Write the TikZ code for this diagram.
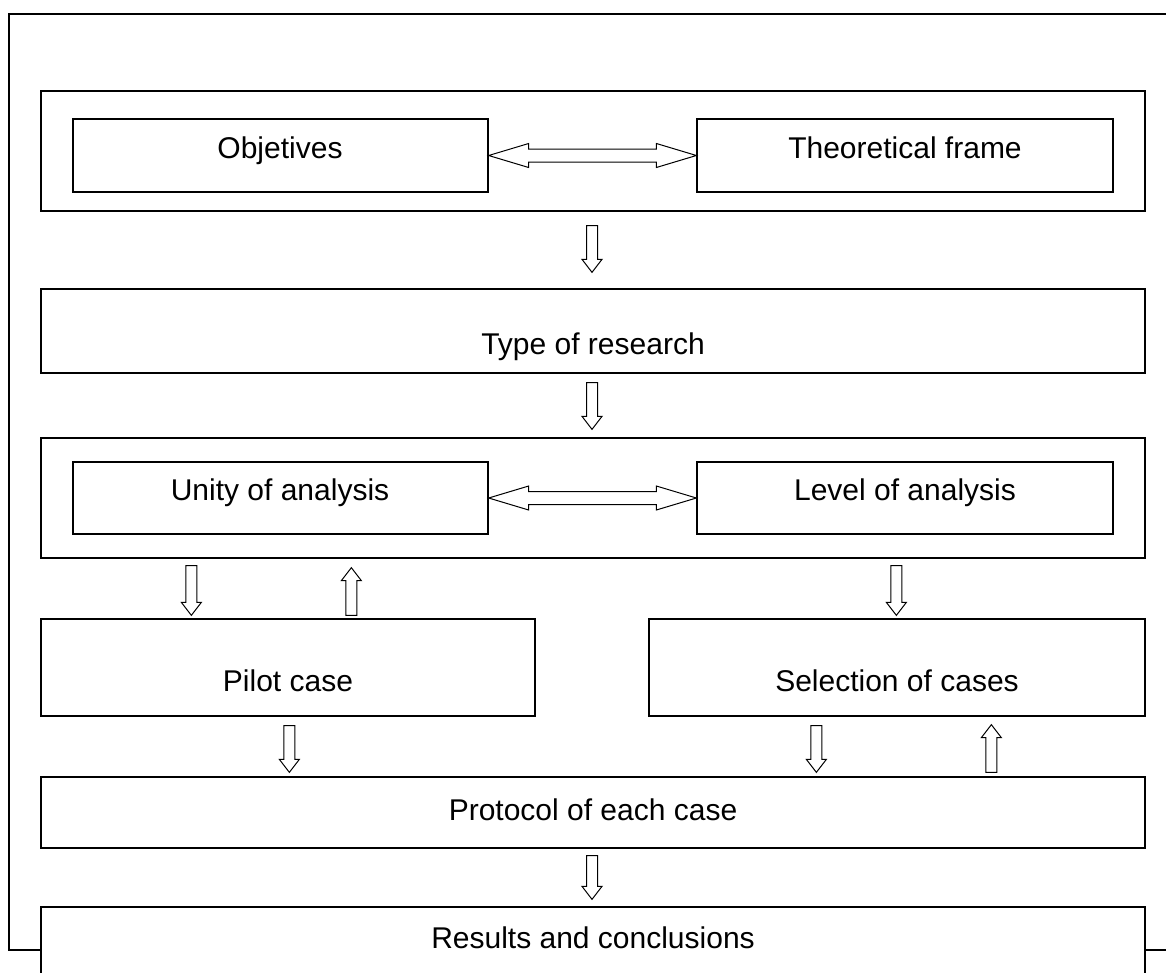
\documentclass[tikz,border=0pt]{standalone}
\usepackage{fontspec}
\setmainfont{Liberation Sans}
\usetikzlibrary{calc,fit}
\tikzset{
  box/.style={draw,line width=1.3pt,fill=white,inner sep=0pt},
  lbl/.style={anchor=base,inner sep=0pt,font=\fontsize{30}{36}\selectfont},
  barrow/.style={draw,line width=1pt,fill=white,line join=miter},
}
\newcommand\blockv[2]{%
  \path[barrow] let \p1=#1, \p2=#2, \n1={13*sign(\y2-\y1)} in
    ({\x1-5.5pt},\y1) -- ({\x1-5.5pt},{\y2-(\n1)*1pt}) -- ({\x1-10pt},{\y2-(\n1)*1pt})
    -- (\x1,\y2) -- ({\x1+10pt},{\y2-(\n1)*1pt}) -- ({\x1+5.5pt},{\y2-(\n1)*1pt})
    -- ({\x1+5.5pt},\y1) -- cycle;}
\newcommand\blockh[2]{%
  \path[barrow] let \p1=#1, \p2=#2 in
    (\x1,\y1) -- ({\x1+40pt},{\y1+12pt}) -- ({\x1+40pt},{\y1+6.5pt}) -- ({\x2-40pt},{\y1+6.5pt})
    -- ({\x2-40pt},{\y1+12pt}) -- (\x2,\y1) -- ({\x2-40pt},{\y1-12pt}) -- ({\x2-40pt},{\y1-6.5pt})
    -- ({\x1+40pt},{\y1-6.5pt}) -- ({\x1+40pt},{\y1-12pt}) -- cycle;}
\begin{document}
\begin{tikzpicture}[x=1pt,y=-1pt]
\useasboundingbox (0,0) rectangle (1166,972);
\clip (0,0) rectangle (1166,972);
% outer frame
\node[box,fill=none,fit={(9,14) (1190,950)}] (frame) {};
% boxes
\node[box,fit={(41,91) (1145,211)}] (g1) {};
\node[box,fit={(73,119) (488,192)}] (obj) {};
\node[box,fit={(697,119) (1113,192)}] (theo) {};
\node[box,fit={(41,289) (1145,373)}] (type) {};
\node[box,fit={(41,438) (1145,558)}] (g2) {};
\node[box,fit={(73,462) (488,534)}] (unity) {};
\node[box,fit={(697,462) (1113,534)}] (level) {};
\node[box,fit={(41,619) (535,716)}] (pilot) {};
\node[box,fit={(649,619) (1145,716)}] (sel) {};
\node[box,fit={(41,777) (1145,848)}] (proto) {};
\node[box,fit={(41,907) (1145,995)}] (res) {};
% labels
\node[lbl] (tobj) at (280,158) {Objetives};
\node[lbl] (ttheo) at (905,158) {Theoretical frame};
\node[lbl] (ttype) at (593,354) {Type of research};
\node[lbl] (tunity) at (280,500) {Unity of analysis};
\node[lbl] (tlevel) at (905,500) {Level of analysis};
\node[lbl] (tpilot) at (288,691) {Pilot case};
\node[lbl] (tsel) at (897,691) {Selection of cases};
\node[lbl] (tproto) at (593,820) {Protocol of each case};
\node[lbl] (tres) at (593,948) {Results and conclusions};
% arrows
\blockh{(obj.east)}{(theo.west)}
\blockh{(unity.east)}{(level.west)}
\blockv{($(g1.south)+(-1,14)$)}{($(type.north)+(-1,-16)$)}
\blockv{($(type.south)+(-1,9)$)}{($(g2.north)+(-1,-8)$)}
\blockv{($(g2.south west)+(151,7)$)}{($(pilot.north west)+(151,-3)$)}
\blockv{($(pilot.north west)+(311,-3)$)}{($(g2.south west)+(311,9)$)}
\blockv{($(g2.south west)+(856,7)$)}{($(sel.north west)+(248,-3)$)}
\blockv{($(pilot.south west)+(249,9)$)}{($(proto.north west)+(249,-4)$)}
\blockv{($(sel.south west)+(168,9)$)}{($(proto.north west)+(776,-4)$)}
\blockv{($(proto.north west)+(951,-4)$)}{($(sel.south west)+(343,8)$)}
\blockv{($(proto.south)+(-1,7)$)}{($(res.north)+(-1,-7)$)}
\end{tikzpicture}
\end{document}
